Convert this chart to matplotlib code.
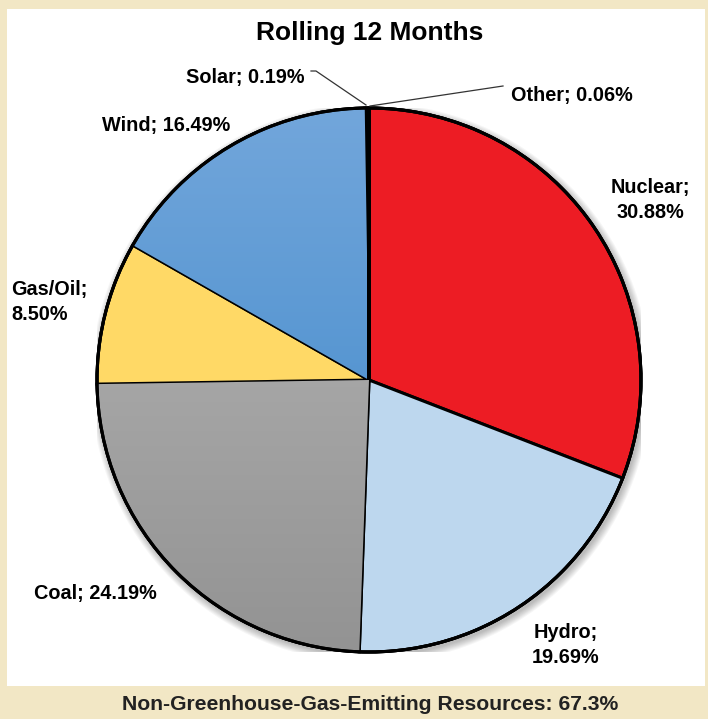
import numpy as np
from matplotlib import pyplot as plt
from matplotlib.colors import LinearSegmentedColormap
from matplotlib.patches import Rectangle, Circle

# data (clockwise from 12 o'clock)
sources = ['Nuclear', 'Hydro', 'Coal', 'Gas/Oil', 'Wind', 'Solar', 'Other']
shares = [30.88, 19.69, 24.19, 8.50, 16.49, 0.19, 0.06]
colors = ['#ED1C24', '#BDD7EE', '#A6A6A6', '#FFD966', '#5B9BD5', '#1A1A1A', '#1A1A1A']
title = 'Rolling 12 Months'
footer = 'Non-Greenhouse-Gas-Emitting Resources: 67.3%'

W, H = 708, 719
fig = plt.figure(figsize=(W / 100, H / 100), dpi=100, facecolor='#F2E7C5')
fig.patches.append(Rectangle((7 / W, (H - 686) / H), 698 / W, 677 / H, transform=fig.transFigure,
                             facecolor='white', edgecolor='none', zorder=-5))

cx, cy, r = 369, 380, 272
ax = fig.add_axes([(cx - r) / W, (H - cy - r) / H, 2 * r / W, 2 * r / H])
ax.set_facecolor('none')

# soft shadow
for k in range(8):
    ax.add_patch(Circle((2 / r, -3 / r), 1 + (8 - k) / r, facecolor='black', alpha=0.035,
                        edgecolor='none', zorder=0.5))

lw = 2.2
wedges, _ = ax.pie(shares, colors=colors, startangle=90, counterclock=False, radius=1,
                   wedgeprops=dict(edgecolor='black', linewidth=lw))

# gradient fills for coal and wind
grads = {'Coal': ('#B8B8B8', '#939393'), 'Wind': ('#72A6DB', '#3B86C8')}
for name, (top, bot) in grads.items():
    w = wedges[sources.index(name)]
    cmap = LinearSegmentedColormap.from_list(name, [bot, top])
    g = np.linspace(0, 1, 256).reshape(-1, 1)
    im = ax.imshow(g, extent=[-1, 1, -1, 1], origin='lower', cmap=cmap, aspect='auto', zorder=w.get_zorder() + 0.1)
    im.set_clip_path(w)
    ax.pie([s if s2 == name else 0 for s2, s in zip(sources, shares)], colors=['none'] * 7,
           startangle=90, counterclock=False, radius=1,
           wedgeprops=dict(edgecolor='black', linewidth=lw, zorder=w.get_zorder() + 0.2))

ax.set_xlim(-1, 1)
ax.set_ylim(-1, 1)
ax.axis('off')

fnt = dict(family=['Liberation Sans', 'DejaVu Sans'], weight='bold', fontsize=14.3)

def px(x, y):
    return ((x - cx) / r, (cy - y) / r)

ax.text(*px(650, 200), 'Nuclear;\n30.88%', ha='center', va='center', linespacing=1.4, **fnt)
ax.text(*px(566, 645), 'Hydro;\n19.69%', ha='center', va='center', linespacing=1.4, **fnt)
ax.text(*px(95, 593), 'Coal; 24.19%', ha='center', va='center', **fnt)
ax.text(*px(11, 302), 'Gas/Oil;\n8.50%', ha='left', va='center', linespacing=1.4, **fnt)
ax.text(*px(166, 125), 'Wind; 16.49%', ha='center', va='center', **fnt)
ax.text(*px(304, 78), 'Solar; 0.19%', ha='right', va='center', **fnt)
ax.text(*px(511, 95), 'Other; 0.06%', ha='left', va='center', **fnt)

# leader lines
sx, sy = zip(px(311, 71), px(316, 71), px(366, 105))
ax.plot(sx, sy, color='#333333', lw=0.9, clip_on=False)
ox, oy = zip(px(370, 106), px(503, 86))
ax.plot(ox, oy, color='#333333', lw=0.9, clip_on=False)

fig.text(370 / W, 1 - 33 / H, title, ha='center', va='center', family=['Liberation Sans', 'DejaVu Sans'],
         weight='bold', fontsize=19)
fig.text(370 / W, 1 - 704 / H, footer, ha='center', va='center', family=['Liberation Sans', 'DejaVu Sans'],
         weight='bold', fontsize=15.2, color='#222222')

fig.savefig('out.png', dpi=100, facecolor=fig.get_facecolor())
